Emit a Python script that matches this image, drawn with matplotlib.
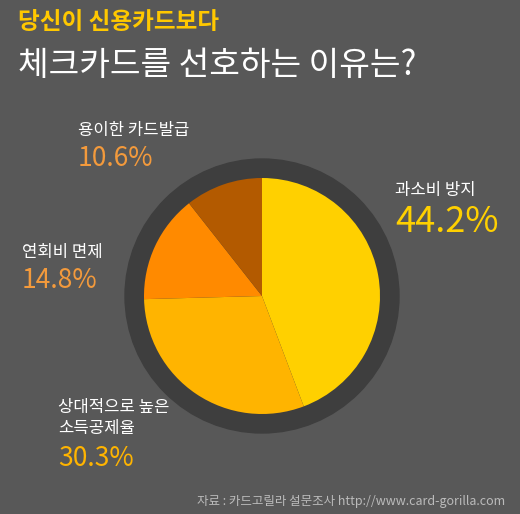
import matplotlib
matplotlib.use("Agg")
import matplotlib.pyplot as plt
from matplotlib.patches import Circle

plt.rcParams['font.family'] = ['Noto Sans CJK KR', 'DejaVu Sans']

labels = ['과소비 방지', '상대적으로 높은\n소득공제율', '연회비 면제', '용이한 카드발급']
values = [44.2, 30.3, 14.8, 10.6]
colors = ['#FFD000', '#FFB400', '#FF8A00', '#B35A00']
pct_colors = ['#FFD000', '#FFB400', '#F39A3C', '#F39A3C']

W, H = 520, 514
fig = plt.figure(figsize=(W/100, H/100), dpi=100, facecolor='#585858')

cx, cy, r = 262, 296, 118
ax = fig.add_axes([(cx-140)/W, 1-(cy+140)/H, 280/W, 280/H])
ax.set_facecolor('none')
ax.add_patch(Circle((0, 0), 137, color='#3e3e3e', zorder=0))
ax.pie(values, colors=colors, startangle=90, counterclock=False, radius=r,
       wedgeprops=dict(linewidth=0), center=(0, 0), frame=False)
ax.set_xlim(-140, 140); ax.set_ylim(-140, 140); ax.set_aspect('equal'); ax.axis('off')

def t(x, y, s, size, color, **kw):
    fig.text(x/W, 1-y/H, s, fontsize=size, color=color, va='center', ha=kw.pop('ha', 'left'), **kw)

t(18, 22, '당신이 신용카드보다', 17, '#FFC800', fontweight='bold')
t(18, 66, '체크카드를 선호하는 이유는?', 24, 'white')

pos = [(395, 190, 395, 222), (58, 418, 58, 458), (22, 252, 22, 280), (78, 130, 78, 158)]
for (lx, ly, px, py), lab, v, pc in zip(pos, labels, values, pct_colors):
    big = v > 40
    t(lx, ly, lab, 12, 'white', linespacing=1.3)
    t(px, py, f'{v}%', 26 if big else 19, pc)

t(505, 502, '자료 : 카드고릴라 설문조사 http://www.card-gorilla.com', 9, '#bbbbbb', ha='right')

fig.savefig('out.png', dpi=100, facecolor=fig.get_facecolor())
